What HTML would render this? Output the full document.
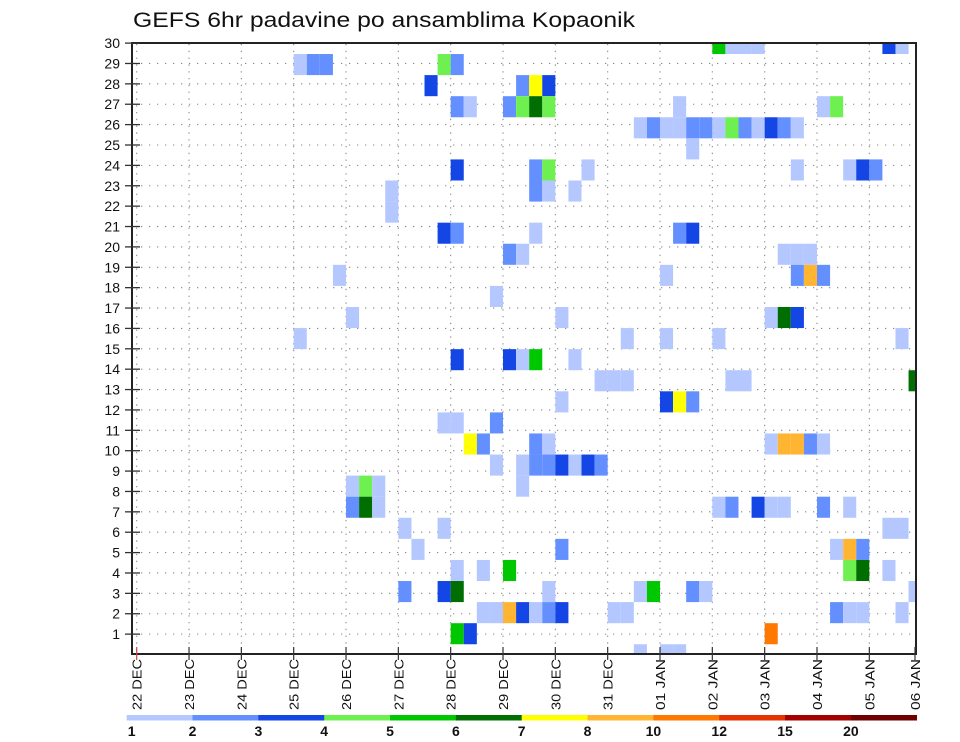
<!DOCTYPE html>
<html><head><meta charset="utf-8"><title>GEFS 6hr padavine</title>
<style>
html,body{margin:0;padding:0;background:#fff;}
svg{display:block;font-family:"Liberation Sans",sans-serif;}
</style></head>
<body>
<svg id="chart" width="960" height="742" viewBox="0 0 960 742" xmlns="http://www.w3.org/2000/svg">
<defs><clipPath id="plotclip"><rect x="132" y="43" width="784" height="611"/></clipPath></defs>
<rect x="0" y="0" width="960" height="742" fill="#fff"/>
<text x="133" y="27" font-size="21" fill="#111" textLength="502" lengthAdjust="spacingAndGlyphs">GEFS 6hr padavine po ansamblima Kopaonik</text>
<g id="grid"></g>
<g id="cells" clip-path="url(#plotclip)"></g>
<g id="axes"></g>
<g id="legend"></g>
</svg>
<script>
// ---- data ----
const members = [29,29,29,29,29,29, 28,28,28,28,28, 27,27,27,27,
 26,26,26,26,26,26,26,26,26,
 25,25,25,25,25,25,25,25,25,25,25,25,25,
 24,
 23,23,23,23,23,23,23,23,
 22,22,22,22, 21,
 20,20,20,20,20,
 19,19,19,19,19,
 18,18,18,18,18,
 17,
 16,16,16,16,16,
 15,15,15,15,15,
 14,14,14,14,14,
 13,13,13,13,13,13,
 12,12,12,12,
 11,11,11,
 10,10,10,10,10,10,10,10,10,
 9,9,9,9,9,9,9,9,
 8,8,8,8,
 7,7,7,7,7,7,7,7,7,7,
 6,6,6,6,
 5,5,5,5,5,
 4,4,4,4,4,4,
 3,3,3,3,3,3,3,3,3,
 2,2,2,2,2,2,2,2,2,2,2,2,2,
 1,1,1,
 0,0,0];
const steps = [44,45,46,47,57,58, 12,13,14,23,24, 22,29,30,31,
 24,25,28,29,30,31,41,52,53,
 38,39,40,41,42,43,44,45,46,47,48,49,50,
 42,
 24,30,31,34,50,54,55,56,
 19,30,31,33, 19,
 23,24,30,41,42,
 28,29,49,50,51,
 15,40,50,51,52,
 27,
 16,32,48,49,50,
 12,37,40,44,58,
 24,28,29,30,33,
 35,36,37,45,46,59,
 32,40,41,42,
 23,24,27,
 25,26,30,31,48,49,50,51,52,
 27,29,30,31,32,33,34,35,
 16,17,18,29,
 16,17,18,44,45,47,48,49,52,54,
 20,23,57,58,
 21,32,53,54,55,
 24,26,28,54,55,57,
 20,23,24,31,38,39,42,43,59,
 26,27,28,29,30,31,32,36,37,53,54,55,58,
 24,25,48,
 38,40,41];
const precip = [5,1,1,1,3,1, 1,2,2,4,2, 3,2,7,3,
 2,1,2,4,6,4,1,1,4,
 1,2,1,1,2,2,1,4,2,1,3,2,1,
 1,
 3,2,4,1,1,1,3,2,
 1,2,1,1, 1,
 3,2,1,2,3,
 2,1,1,1,1,
 1,1,2,8,2,
 1,
 1,1,1,6,3,
 1,1,1,1,1,
 3,3,1,5,1,
 1,1,1,1,1,6,
 1,3,7,2,
 1,1,2,
 7,2,2,1,1,8,8,2,1,
 1,1,2,2,3,1,3,2,
 1,4,1,1,
 2,6,1,1,2,3,1,1,2,1,
 1,1,1,1,
 1,2,1,8,2,
 1,1,5,4,6,1,
 2,3,6,1,1,5,2,1,1,
 1,1,8,3,1,2,3,1,1,2,1,1,1,
 5,3,10,
 1,1,1];
const legendLevels = [1,2,3,4,5,6,7,8,10,12,15,20];
const legendColors = ["#b4c8ff","#6490ff","#1446e6","#6ef050","#00c800","#006e00","#ffff00","#ffb432","#ff7800","#e63200","#a50000","#6e0000"];
const yTicks = [1,2,3,4,5,6,7,8,9,10,11,12,13,14,15,16,17,18,19,20,21,22,23,24,25,26,27,28,29,30];
const dayLabels = ["22  DEC","23  DEC","24  DEC","25  DEC","26  DEC","27  DEC","28  DEC","29  DEC","30  DEC","31  DEC","01  JAN","02  JAN","03  JAN","04  JAN","05  JAN","06  JAN"];

// ---- scales ----
const NS="http://www.w3.org/2000/svg";
const X0=136.7, DAY=52.33, STEP=DAY/4;
const xStep = j => X0 + j*STEP;
const xDay = d => d===15 ? 915 : X0 + d*DAY;
const yTick = r => 654.5 - r*20.38;
const CELLH = 21.08;
const yMember = m => 654.8 - m*CELLH;
function colorFor(v){ let idx=0; for(let i=0;i<legendLevels.length;i++){ if(v>=legendLevels[i]) idx=i; } return legendColors[idx]; }
function mk(tag, attrs, parent){ const e=document.createElementNS(NS,tag); for(const k in attrs) e.setAttribute(k,attrs[k]); parent.appendChild(e); return e; }

const grid=document.getElementById('grid'), cells=document.getElementById('cells'), axes=document.getElementById('axes'), legend=document.getElementById('legend');

// grid
for(let r=1;r<30;r++){
  const y=yTick(r);
  const l=mk('line',{x1:133,x2:915,y1:y,y2:y,stroke:'#8a8a8a','stroke-width':1.1,'stroke-dasharray':'1.3 6.7'},grid);
  
  
}
for(let d=0;d<15;d++){
  const x=xDay(d);
  const l=mk('line',{x1:x,x2:x,y1:44,y2:653,stroke:'#8a8a8a','stroke-width':1.1,'stroke-dasharray':'1.3 5.5'},grid);
  
  
}

// cells
for(let i=0;i<members.length;i++){
  const c=mk('rect',{x:xStep(steps[i]),y:yMember(members[i])-CELLH/2,width:STEP,height:CELLH,fill:colorFor(precip[i])},cells);
  
  
}

// axes frame
const frame=mk('rect',{x:132,y:43,width:784,height:611,fill:'none',stroke:'#222','stroke-width':2},axes);


yTicks.forEach(r=>{
  const y=yTick(r);
  const t=mk('line',{x1:125,x2:140,y1:y,y2:y,stroke:'#333','stroke-width':1.3},axes);
  
  
  const lb=mk('text',{x:120,y:y+5,'font-size':14,'text-anchor':'end',fill:'#111'},axes);
  lb.textContent=String(r);
  
  
});
dayLabels.forEach((s,d)=>{
  const x=xDay(d);
  const t=mk('line',{x1:x,x2:x,y1:647,y2:660,stroke:d===0?'#c44':'#333','stroke-width':1.2},axes);
  
  
  const lb=mk('text',{x:0,y:0,'font-size':13,fill:'#111',transform:`translate(${x+5},710) rotate(-90)`,textLength:51,lengthAdjust:'spacingAndGlyphs'},axes);
  lb.textContent=s;
  
  
});

// colorbar
const LX=126.7, LW=(916.7-126.7)/legendColors.length;
legendColors.forEach((c,i)=>{
  const r=mk('rect',{x:LX+i*LW,y:715,width:LW+0.3,height:5.5,fill:c},legend);
  
  
  const lb=mk('text',{x:LX+i*LW+(i===0?1:0),y:736,'font-size':14,'font-weight':'bold','text-anchor':i===0?'start':'middle',fill:'#111'},legend);
  lb.textContent=String(legendLevels[i]);
  
  
});
</script>
</body></html>
